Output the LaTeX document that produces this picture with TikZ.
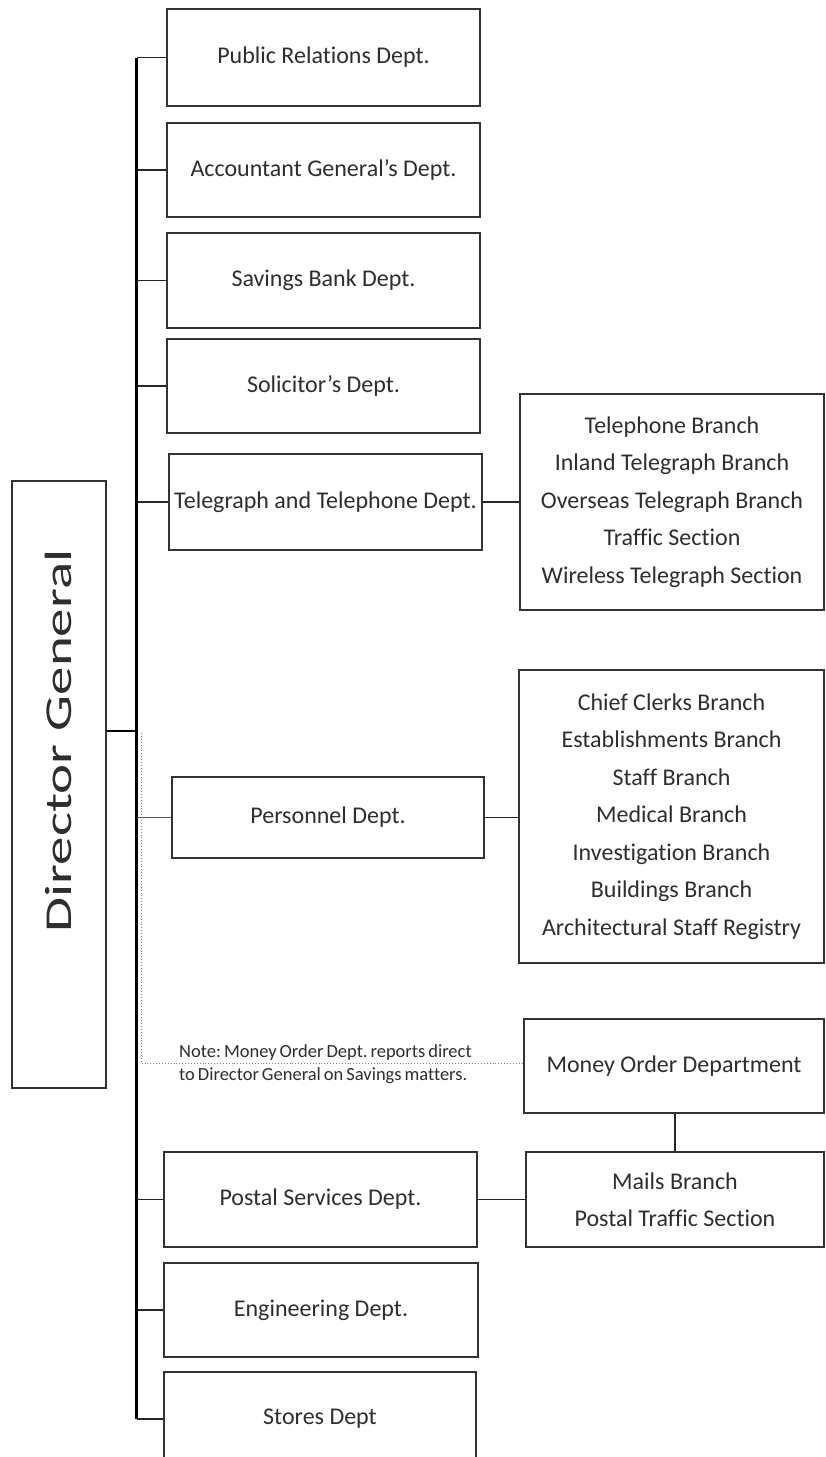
\documentclass[tikz,border=0pt]{standalone}
\usepackage{fontspec}
\setmainfont{Carlito}[Ligatures={NoCommon}]
\usepackage{graphicx}
\definecolor{boxc}{HTML}{333333}
\definecolor{linec}{HTML}{262626}
\definecolor{txt}{HTML}{2E2E2E}
\frenchspacing
\begin{document}
\begin{tikzpicture}[x=1pt,y=-1pt,
  box/.style={draw=boxc, line width=1.3pt, inner sep=0pt, text=txt, align=center,
              font=\fontsize{24}{29}\selectfont},
  branch/.style={box, font=\fontsize{24}{37.5}\selectfont},
  conn/.style={draw=linec, line width=1.4pt},
  spinel/.style={draw=black, line width=2.2pt},
  notel/.style={draw=gray, line width=0.9pt, dotted}]
\clip (0,0) rectangle (825,1457);
\fill[white] (0,0) rectangle (825,1457);
% left column
\node[box, minimum width=313pt, minimum height=97pt] (pr) at (323.5,57.5) {Public Relations Dept.};
\node[box, minimum width=313pt, minimum height=94pt] (ag) at (323.5,170) {Accountant General’s Dept.};
\node[box, minimum width=313pt, minimum height=95pt] (sb) at (323.5,280.5) {Savings Bank Dept.};
\node[box, minimum width=313pt, minimum height=94pt] (sol) at (323.5,386) {Solicitor’s Dept.};
\node[box, minimum width=313pt, minimum height=96pt] (tel) at (325.5,502) {Telegraph and Telephone Dept.};
\node[box, minimum width=312pt, minimum height=81pt] (pers) at (328,817.5) {Personnel Dept.};
\node[box, minimum width=313pt, minimum height=95pt] (ps) at (320.5,1199.5) {Postal Services Dept.};
\node[box, minimum width=314pt, minimum height=94pt] (eng) at (321,1310) {Engineering Dept.};
\node[box, minimum width=312pt, minimum height=94pt] (st) at (320,1419) {Stores Dept};
% right column
\node[branch, minimum width=304pt, minimum height=216pt] (tbr) at (672,502)
  {Telephone Branch\\Inland Telegraph Branch\\Overseas Telegraph Branch\\Traffic Section\\Wireless Telegraph Section};
\node[branch, minimum width=305pt, minimum height=293pt] (pbr) at (671.5,816.5)
  {Chief Clerks Branch\\Establishments Branch\\Staff Branch\\Medical Branch\\Investigation Branch\\Buildings Branch\\Architectural Staff Registry};
\node[box, minimum width=300pt, minimum height=94pt] (mo) at (674,1066) {Money Order Department};
\node[branch, minimum width=298pt, minimum height=95pt] (mails) at (675,1199.5) {Mails Branch\\Postal Traffic Section};
% director general
\node[box, minimum width=94pt, minimum height=607pt] (dg) at (59,784.5) {};
\node[rotate=90, inner sep=0pt, text=txt, font=\fontsize{38}{38}\selectfont] (dgt) at (58.5,741)
  {\scalebox{1.5}[1]{Director General}};
% spine
\coordinate (sptop) at (136.5,58);
\coordinate (spbot) at (136.5,1419);
\coordinate (junc) at (137,731);
\draw[spinel] (sptop) -- (spbot);
\draw[spinel, line width=2pt] (dg.east |- junc) -- (junc);
% connectors
\foreach \n in {pr,ag,sb,sol,tel,ps,eng,st}
  \draw[conn] (\n.west) -- (\n.west -| sptop);
\draw[conn, draw=gray!70!black, line width=1.6pt] (pers.west) -- (pers.west -| sptop);
\draw[conn] (tel.east) -- (tel.east -| tbr.west);
\draw[conn] (pers.east) -- (pers.east -| pbr.west);
\draw[conn] (ps.east) -- (ps.east -| mails.west);
\draw[conn] (mo.south -| mails.north) -- (mails.north);
% note
\coordinate (dtop) at (141,733);
\coordinate (dcorner) at (141,1063);
\draw[notel] (dtop) -- (dcorner) -- (dcorner -| mo.west);
\node[anchor=west, align=left, inner sep=0pt, text=txt, font=\fontsize{18.5}{23}\selectfont] (note) at (179,1064)
  {\spaceskip=0.16em\relax Note: Money Order Dept. reports direct\\\spaceskip=0.16em\relax to Director General on Savings matters.};
\end{tikzpicture}
\end{document}
